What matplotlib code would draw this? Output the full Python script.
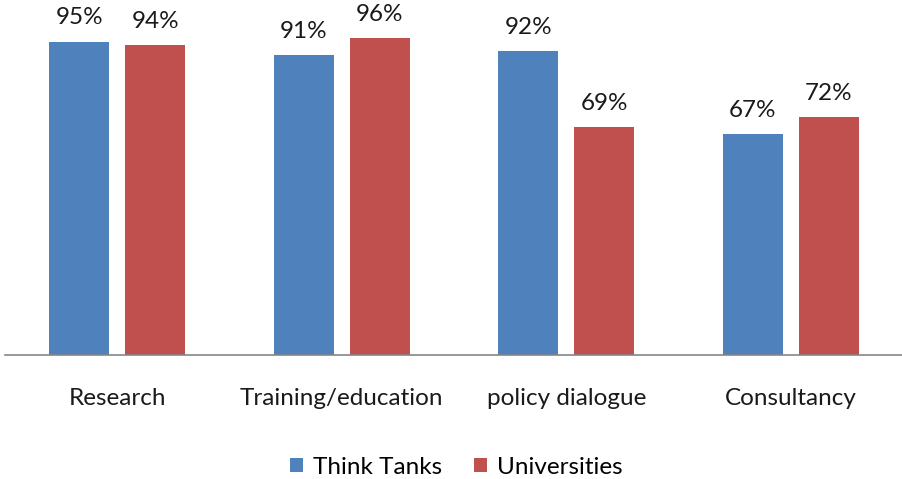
import matplotlib.pyplot as plt
import numpy as np

categories = ['Research', 'Training/education', 'policy dialogue', 'Consultancy']
think_tanks = [95, 91, 92, 67]
universities = [94, 96, 69, 72]
series_names = ['Think Tanks', 'Universities']

plt.rcParams['font.family'] = ['Lato', 'DejaVu Sans']
fs = 17.5

fig = plt.figure(figsize=(9.03, 4.79), dpi=100)
ax = fig.add_axes([5 / 903, 124 / 479, 898 / 903, 330 / 479])

x = np.arange(len(categories))
w = 0.267
off = 0.17
b1 = ax.bar(x - off, think_tanks, w, color='#4F81BD', label=series_names[0])
b2 = ax.bar(x + off, universities, w, color='#C0504D', label=series_names[1])

# value labels above each bar
for bars, vals in [(b1, think_tanks), (b2, universities)]:
    for b, v in zip(bars, vals):
        ax.text(b.get_x() + b.get_width() / 2, v + 5.2, f'{v}%',
                ha='center', va='baseline', fontsize=fs, color='#1a1a1a', clip_on=False)

ax.set_xlim(-0.5, 3.5)
ax.set_ylim(0, 100)
ax.set_xticks(x)
ax.set_xticklabels(categories, fontsize=fs, color='#1a1a1a')
ax.tick_params(axis='x', length=0, pad=24)
ax.set_yticks([])
for s in ['top', 'right', 'left']:
    ax.spines[s].set_visible(False)
ax.spines['bottom'].set_color('#868686')
ax.spines['bottom'].set_linewidth(1.2)

fig.legend(handles=[b1, b2], labels=series_names, loc='center', bbox_to_anchor=(0.505, 1 - 467 / 479),
           ncol=2, frameon=False, fontsize=fs, handlelength=0.55, handleheight=0.55,
           handletextpad=0.4, columnspacing=1.3)

fig.savefig('out.png', dpi=100)
